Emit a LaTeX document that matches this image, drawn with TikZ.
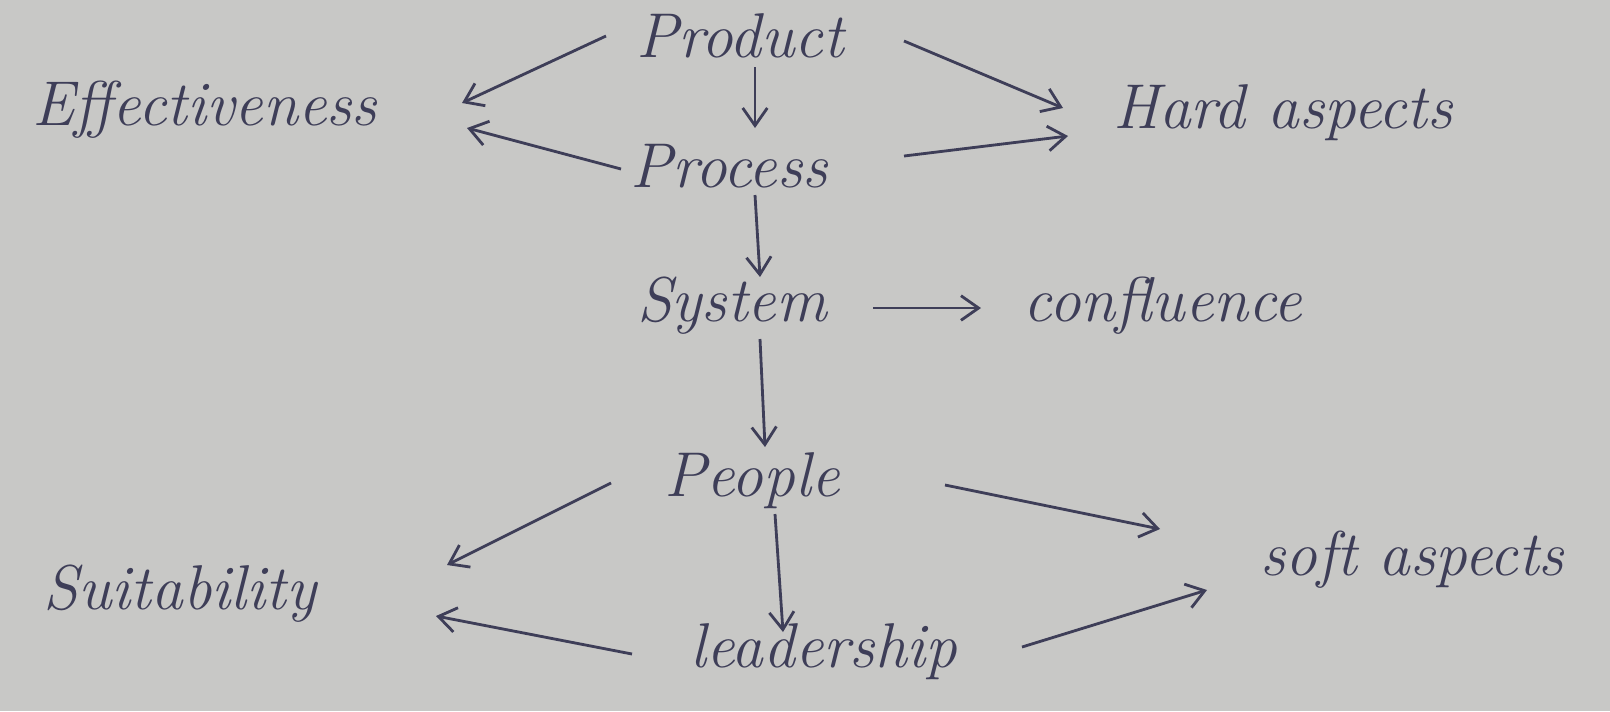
\documentclass[tikz,border=0pt]{standalone}
\usepackage{tikz}
\usetikzlibrary{arrows.meta,calc}
\definecolor{paper}{RGB}{200,200,198}
\definecolor{ink}{RGB}{62,62,88}
\tikzset{
  word/.style={text=ink, font=\fontsize{18}{21}\selectfont\itshape, inner sep=0pt},
  arrow/.style={draw=ink, line width=0.8pt, -{Straight Barb[length=5pt,width=7pt]}}
}

\begin{document}
\begin{tikzpicture}[x=0.01cm, y=-0.01cm]
    \fill[paper] (0,0) rectangle (1610,711);
    \useasboundingbox (0,0) rectangle (1610,711);

    \node[word] (prod) at (740,36) {Product};
    \node[word] (eff) at (205,110) {Effectiveness};
    \node[word] (hard) at (1283,113) {Hard aspects};
    \node[word] (proc) at (729,166) {Process};
    \node[word] (sys) at (732,306) {System};
    \node[word] (conf) at (1163,306) {confluence};
    \node[word] (peop) at (752,481) {People};
    \node[word] (suit) at (180,594) {Suitability};
    \node[word] (soft) at (1412,560) {soft aspects};
    \node[word] (lead) at (824,652) {leadership};

    \draw[arrow] ($(prod)+(-134,0)$) -- ($(eff)+(257,-7)$);
    \draw[arrow] ($(prod)+(15,31)$) -- ($(proc)+(26,-38)$);
    \draw[arrow] ($(prod)+(164,5)$) -- ($(hard)+(-220,-5)$);

    \draw[arrow] ($(proc)+(-108,3)$) -- ($(eff)+(262,18)$);
    \draw[arrow] ($(proc)+(175,-10)$) -- ($(hard)+(-215,23)$);
    \draw[arrow] ($(proc)+(26,29)$) -- ($(sys)+(28,-29)$);

    \draw[arrow] ($(sys)+(141,2)$) -- ($(conf)+(-182,2)$);
    \draw[arrow] ($(sys)+(28,33)$) -- ($(peop)+(13,-34)$);

    \draw[arrow] ($(peop)+(-141,2)$) -- ($(suit)+(267,-29)$);
    \draw[arrow] ($(peop)+(193,4)$) -- ($(soft)+(-252,-31)$);
    \draw[arrow] ($(peop)+(23,33)$) -- ($(lead)+(-41,-20)$);

    \draw[arrow] ($(lead)+(-192,2)$) -- ($(suit)+(256,22)$);
    \draw[arrow] ($(lead)+(198,-5)$) -- ($(soft)+(-205,30)$);
\end{tikzpicture}
\end{document}
